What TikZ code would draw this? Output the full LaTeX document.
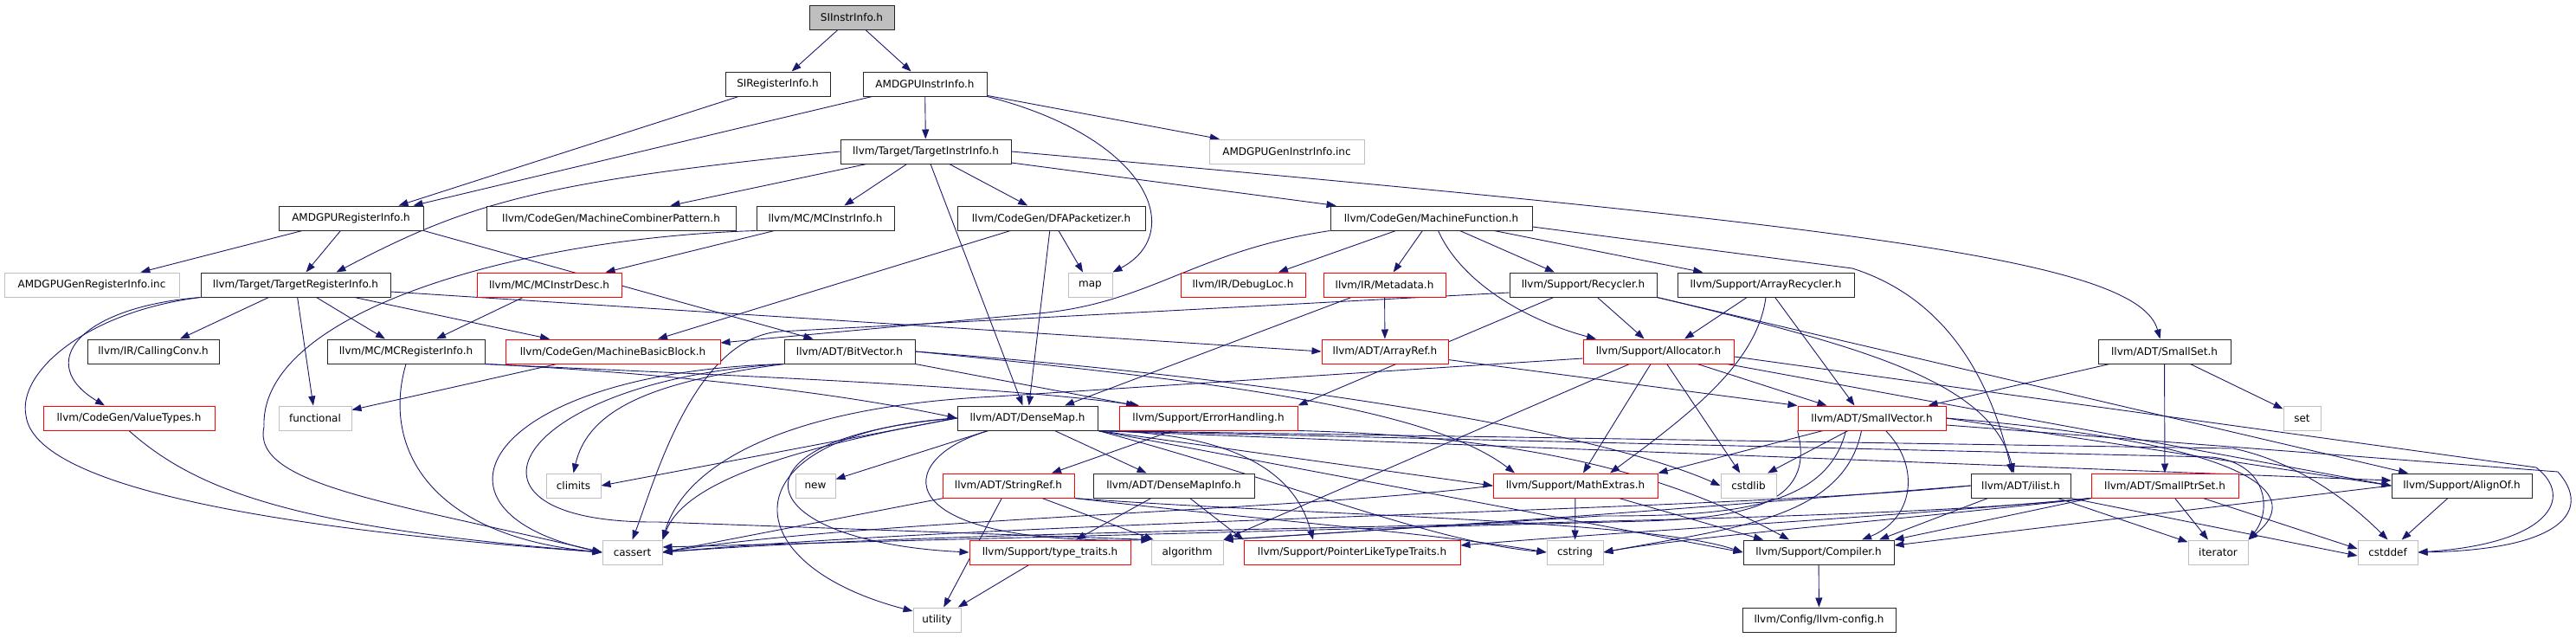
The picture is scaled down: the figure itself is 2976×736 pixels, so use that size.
\documentclass[tikz,border=0pt]{standalone}
\usepackage{fontspec}
\setmainfont{DejaVu Sans}
\usetikzlibrary{arrows.meta, backgrounds}
\definecolor{edgeblue}{RGB}{25,25,112}
\definecolor{extgray}{RGB}{191,191,191}
\definecolor{truncred}{RGB}{255,0,0}
\tikzset{
    incbox/.style={rectangle, draw=black!85, fill=white, minimum width=#1, minimum height=28pt, inner xsep=2pt, inner ysep=0pt, font=\fontsize{12}{14}\selectfont, line width=1pt},
    truncbox/.style={incbox=#1, draw=truncred},
    extbox/.style={incbox=#1, draw=extgray},
    rootbox/.style={incbox=#1, fill=extgray},
    deparrow/.style={-{Triangle[length=11pt, width=8pt]}, draw=edgeblue, line width=0.9pt}
}

\begin{document}
\begin{tikzpicture}[x=1pt, y=-1pt]
\useasboundingbox (0,0) rectangle (2976,736);

\node[rootbox=98] (siinstr) at (984,20) {SIInstrInfo.h};

\node[incbox=121] (sireg) at (898.5,97) {SIRegisterInfo.h};
\node[incbox=143] (amdinstr) at (1068.5,97) {AMDGPUInstrInfo.h};

\node[incbox=197] (tii) at (1069.5,175) {llvm/Target/TargetInstrInfo.h};
\node[extbox=179] (geninstr) at (1486.5,175) {AMDGPUGenInstrInfo.inc};

\node[incbox=167] (amdreg) at (405.5,252) {AMDGPURegisterInfo.h};
\node[incbox=288] (mcp) at (706,252) {llvm/CodeGen/MachineCombinerPattern.h};
\node[incbox=159] (mcii) at (953.5,252) {llvm/MC/MCInstrInfo.h};
\node[incbox=217] (dfa) at (1214.5,252) {llvm/CodeGen/DFAPacketizer.h};
\node[incbox=233] (mf) at (1653.5,252) {llvm/CodeGen/MachineFunction.h};

\node[extbox=202] (genreg) at (106,329) {AMDGPUGenRegisterInfo.inc};
\node[incbox=219] (tri) at (341.5,329) {llvm/Target/TargetRegisterInfo.h};
\node[truncbox=167] (mcid) at (634.5,329) {llvm/MC/MCInstrDesc.h};
\node[extbox=51] (stdmap) at (1259.5,329) {map};
\node[truncbox=144] (dbgloc) at (1436,329) {llvm/IR/DebugLoc.h};
\node[truncbox=141] (metadata) at (1599.5,329) {llvm/IR/Metadata.h};
\node[incbox=170] (recycler) at (1829,329) {llvm/Support/Recycler.h};
\node[incbox=204] (arecycler) at (2040,329) {llvm/Support/ArrayRecycler.h};

\node[incbox=152] (callconv) at (177,406) {llvm/IR/CallingConv.h};
\node[incbox=182] (mcri) at (469,406) {llvm/MC/MCRegisterInfo.h};
\node[truncbox=248] (mbb) at (708,406) {llvm/CodeGen/MachineBasicBlock.h};
\node[incbox=151] (bitvec) at (981.5,406) {llvm/ADT/BitVector.h};
\node[truncbox=146] (arrayref) at (1600,406) {llvm/ADT/ArrayRef.h};
\node[truncbox=174] (alloc) at (1916,406) {llvm/Support/Allocator.h};
\node[incbox=153] (smallset) at (2500.5,406) {llvm/ADT/SmallSet.h};

\node[truncbox=198] (valuetypes) at (149,483) {llvm/CodeGen/ValueTypes.h};
\node[extbox=84] (stdfunctional) at (364,483) {functional};
\node[incbox=162] (densemap) at (1187,483) {llvm/ADT/DenseMap.h};
\node[truncbox=206] (errh) at (1396,483) {llvm/Support/ErrorHandling.h};
\node[truncbox=171] (smallvec) at (2162.5,483) {llvm/ADT/SmallVector.h};
\node[extbox=43] (stdset) at (2659.5,483) {set};

\node[extbox=63] (stdclimits) at (662.5,561) {climits};
\node[extbox=46] (stdnew) at (942,561) {new};
\node[truncbox=152] (stringref) at (1165,561) {llvm/ADT/StringRef.h};
\node[incbox=186] (dmi) at (1356,561) {llvm/ADT/DenseMapInfo.h};
\node[truncbox=190] (mathext) at (1820,561) {llvm/Support/MathExtras.h};
\node[extbox=64] (stdcstdlib) at (2020,561) {cstdlib};
\node[incbox=115] (ilist) at (2334.5,561) {llvm/ADT/ilist.h};
\node[truncbox=170] (smallptrset) at (2501,561) {llvm/ADT/SmallPtrSet.h};
\node[incbox=162] (alignof) at (2844,561) {llvm/Support/AlignOf.h};

\node[extbox=69] (stdcassert) at (730.5,638) {cassert};
\node[truncbox=186] (typetraits) at (1213,638) {llvm/Support/type\_traits.h};
\node[extbox=83] (stdalgorithm) at (1371.5,638) {algorithm};
\node[truncbox=250] (pltt) at (1562,638) {llvm/Support/PointerLikeTypeTraits.h};
\node[extbox=65] (stdcstring) at (1819.5,638) {cstring};
\node[incbox=174] (compiler) at (2101,638) {llvm/Support/Compiler.h};
\node[extbox=69] (stditerator) at (2562.5,638) {iterator};
\node[extbox=69] (stdcstddef) at (2758.5,638) {cstddef};

\node[extbox=55] (stdutility) at (1082.5,716) {utility};
\node[incbox=177] (llvmconfig) at (2101.5,716) {llvm/Config/llvm-config.h};

\begin{scope}[on background layer]
\draw[deparrow] (siinstr) -- (sireg);
\draw[deparrow] (siinstr) -- (amdinstr);
\draw[deparrow] (sireg) -- ([xshift=55pt]amdreg.north);
\draw[deparrow] (amdinstr) -- ([xshift=72pt]amdreg.north);
\draw[deparrow] (amdinstr) -- (tii);
\draw[deparrow] (amdinstr) -- (geninstr);
\draw[deparrow] (amdinstr.south east) .. controls (1330,160) and (1370,270) .. (stdmap.north east);

\draw[deparrow] (tii.west) .. controls (620,210) and (540,235) .. ([xshift=47pt]tri.north);
\draw[deparrow] (tii) -- (mcp);
\draw[deparrow] (tii) -- (mcii);
\draw[deparrow] (tii) -- (dfa);
\draw[deparrow] (tii) -- (mf);
\draw[deparrow] (tii) -- (densemap);
\draw[deparrow] (tii.east) .. controls (2150,262) and (2470,300) .. ([xshift=-5pt]smallset.north);

\draw[deparrow] (amdreg) -- (genreg);
\draw[deparrow] (amdreg) -- (tri);
\draw[deparrow] (amdreg.south east) -- ([xshift=-42pt]bitvec.north);

\draw[deparrow] (mcii) -- ([xshift=65pt]mcid.north);
\draw[deparrow] (mcii.south west) .. controls (600,275) and (300,360) .. (305,493) .. controls (290,560) and (450,580) .. (stdcassert.west);

\draw[deparrow] (dfa) -- (stdmap);
\draw[deparrow] (dfa) -- ([xshift=52pt]mbb.north);
\draw[deparrow] (dfa) -- (densemap);

\draw[deparrow] (mf.south west) .. controls (1380,290) and (1330,350) .. (1200,362) -- ([yshift=10pt]mbb.east);
\draw[deparrow] (mf) -- (dbgloc);
\draw[deparrow] (mf) -- (metadata);
\draw[deparrow] ([xshift=8pt]mf.south) .. controls (1690,330) and (1770,372) .. ([xshift=-72pt]alloc.north);
\draw[deparrow] (mf) -- (recycler);
\draw[deparrow] (mf) -- (arecycler);
\draw[deparrow] ([yshift=-10pt]mf.east) -- (2140,310) .. controls (2250,345) and (2300,440) .. ([xshift=-10pt]ilist.north);

\draw[deparrow] (tri.south west) .. controls (90,355) and (40,420) .. ([xshift=-28pt]valuetypes.north);
\draw[deparrow] (tri.south west) .. controls (100,360) and (20,430) .. (30,480) .. controls (40,560) and (300,610) .. (stdcassert.west);
\draw[deparrow] (tri) -- (callconv);
\draw[deparrow] (tri) -- (stdfunctional);
\draw[deparrow] (tri) -- (mcri);
\draw[deparrow] (tri) -- ([xshift=-73pt]mbb.north);
\draw[deparrow] ([yshift=-8pt]tri.east) -- (arrayref.west);

\draw[deparrow] (mcid) -- ([xshift=35pt]mcri.north);
\draw[deparrow] (metadata) -- ([xshift=43pt]densemap.north);
\draw[deparrow] (metadata) -- (arrayref);

\draw[deparrow] (recycler) -- (errh.north east);
\draw[deparrow] (recycler) -- (alloc);
\draw[deparrow] ([yshift=-9pt]recycler.west) -- (900,383) .. controls (800,392) and (755,560) .. (stdcassert.north);
\draw[deparrow] (recycler.south east) .. controls (2150,400) and (2300,440) .. ([xshift=-8pt]ilist.north);
\draw[deparrow] (recycler.south east) -- ([xshift=-62pt]alignof.north);

\draw[deparrow] (arecycler) -- ([xshift=30pt]alloc.north);
\draw[deparrow] (arecycler.south) .. controls (2030,420) and (1950,480) .. ([xshift=40pt]mathext.north);
\draw[deparrow] (arecycler) -- ([xshift=-20pt]smallvec.north);

\draw[deparrow] (alloc) -- ([xshift=-52pt]smallvec.north);
\draw[deparrow] (alloc) -- (mathext);
\draw[deparrow] (alloc) -- (stdcstdlib);
\draw[deparrow] ([yshift=-8pt]alloc.west) -- (1150,458) .. controls (900,470) and (790,540) .. (stdcassert.north east);
\draw[deparrow] (alloc) -- (stdalgorithm.north east);
\draw[deparrow] (alloc) -- (alignof.west);
\draw[deparrow] ([yshift=-6pt]alloc.east) -- (2930,540) .. controls (2975,575) and (2945,628) .. (stdcstddef.east);

\draw[deparrow] (smallset) -- (smallptrset);
\draw[deparrow] (smallset) -- ([xshift=65pt]smallvec.north);
\draw[deparrow] (smallset) -- (stdset);

\draw[deparrow] (arrayref) -- (smallvec.north west);
\draw[deparrow] (mbb) -- (stdfunctional);

\draw[deparrow] (bitvec.south east) -- ([xshift=-84pt]errh.north);
\draw[deparrow] (bitvec.east) .. controls (1400,440) and (1650,470) .. ([xshift=-70pt]mathext.north);
\draw[deparrow] (bitvec.east) .. controls (1500,440) and (1850,500) .. (stdcstdlib.west);
\draw[deparrow] (bitvec.south west) .. controls (760,440) and (680,470) .. (stdclimits.north);
\draw[deparrow] (bitvec.south west) .. controls (560,430) and (470,590) .. (stdcassert.west);
\draw[deparrow] (bitvec.south west) .. controls (590,440) and (500,605) .. (760,603) -- (stdalgorithm.north west);

\draw[deparrow] (densemap) -- (stdnew);
\draw[deparrow] (densemap) -- (dmi);
\draw[deparrow] (densemap.west) .. controls (840,500) and (840,650) .. ([yshift=10pt]stdutility.west);
\draw[deparrow] (densemap.west) .. controls (830,505) and (860,625) .. (typetraits.west);
\draw[deparrow] (densemap.west) .. controls (900,520) and (790,560) .. (stdcassert.north east);
\draw[deparrow] (densemap.west) -- (stdclimits.east);
\draw[deparrow] ([xshift=-45pt]densemap.south) .. controls (1030,530) and (1020,630) .. (stdalgorithm.north west);
\draw[deparrow] (densemap.south east) .. controls (1450,500) and (1500,560) .. ([xshift=-45pt]pltt.north);
\draw[deparrow] (densemap.south east) -- (mathext.west);
\draw[deparrow] (densemap.south east) .. controls (1500,560) and (1650,625) .. (stdcstring.west);
\draw[deparrow] (densemap.south east) -- (compiler.west);
\draw[deparrow] (densemap.south east) -- (2555,528) .. controls (2620,535) and (2625,590) .. (stditerator.north east);
\draw[deparrow] (densemap.south east) -- (2580,518) .. controls (2660,535) and (2720,585) .. (stdcstddef.north);
\draw[deparrow] (densemap.south east) -- ([yshift=6pt]alignof.west);

\draw[deparrow] (errh) -- ([xshift=50pt]stringref.north);
\draw[deparrow] (errh.south east) .. controls (1800,505) and (1950,560) .. ([xshift=-34pt]compiler.north);

\draw[deparrow] (stringref) -- (stdutility);
\draw[deparrow] (stringref) -- (stdalgorithm);
\draw[deparrow] (stringref) -- (stdcassert.east);
\draw[deparrow] (stringref.south east) .. controls (1450,600) and (1650,615) .. (stdcstring.west);
\draw[deparrow] (stringref.south east) .. controls (1500,595) and (1900,600) .. (compiler.west);

\draw[deparrow] (dmi) -- ([xshift=30pt]typetraits.north);
\draw[deparrow] (dmi) -- (pltt.north west);

\draw[deparrow] (mathext) -- (stdcstring);
\draw[deparrow] (mathext) -- ([xshift=-64pt]compiler.north);
\draw[deparrow] (mathext.west) .. controls (1500,590) and (1000,600) .. (stdcassert.east);

\draw[deparrow] (smallvec) -- (mathext.north east);
\draw[deparrow] (smallvec) -- ([xshift=22pt]stdcstdlib.north);
\draw[deparrow] (smallvec.east) -- (alignof.west);
\draw[deparrow] ([xshift=16pt]smallvec.south) .. controls (2220,540) and (2210,600) .. ([xshift=50pt]compiler.north);
\draw[deparrow] ([xshift=-12pt]smallvec.south) .. controls (2130,600) and (2000,610) .. (stdcstring.east);
\draw[deparrow] (smallvec.south west) .. controls (2100,585) and (2010,598) .. (1900,602) -- ([yshift=6pt]stdcassert.east);
\draw[deparrow] ([xshift=-30pt]smallvec.south) .. controls (2110,590) and (1990,596) .. (1850,596) -- (stdalgorithm.north east);
\draw[deparrow] (smallvec.east) .. controls (2580,510) and (2670,565) .. (stditerator.north east);
\draw[deparrow] ([yshift=-8pt]smallvec.east) -- (2955,545) .. controls (2995,590) and (2960,635) .. (stdcstddef.east);

\draw[deparrow] (ilist) -- ([xshift=70pt]compiler.north);
\draw[deparrow] (ilist) -- (stditerator);
\draw[deparrow] (ilist.south east) -- ([yshift=-4pt]stdcstddef.west);
\draw[deparrow] (ilist.west) .. controls (2100,575) and (1800,600) .. (stdalgorithm.north east);
\draw[deparrow] (ilist.west) .. controls (2000,590) and (1200,600) .. (stdcassert.east);

\draw[deparrow] (smallptrset) -- (stditerator);
\draw[deparrow] (smallptrset) -- ([yshift=4pt]stdcstddef.west);
\draw[deparrow] (smallptrset.south west) -- (compiler.north east);
\draw[deparrow] (smallptrset.south west) .. controls (2200,600) and (1950,620) .. (stdcstring.east);
\draw[deparrow] (smallptrset.south west) .. controls (2150,600) and (1900,612) .. ([yshift=8pt]pltt.east);
\draw[deparrow] (smallptrset.south west) .. controls (2100,610) and (1200,605) .. (stdcassert.east);

\draw[deparrow] (alignof.west) -- ([yshift=8pt]compiler.east);
\draw[deparrow] (alignof) -- (stdcstddef);

\draw[deparrow] (valuetypes.south) .. controls (230,570) and (350,610) .. (stdcassert.west);
\draw[deparrow] (mcri.south) .. controls (440,520) and (500,620) .. (stdcassert.west);
\draw[deparrow] (mcri.south east) .. controls (750,430) and (950,450) .. (densemap.west);
\draw[deparrow] (mcri.south east) .. controls (800,432) and (1150,445) .. ([xshift=-80pt]errh.north);

\draw[deparrow] (typetraits) -- (stdutility);
\draw[deparrow] (compiler) -- (llvmconfig);
\end{scope}

\end{tikzpicture}
\end{document}
